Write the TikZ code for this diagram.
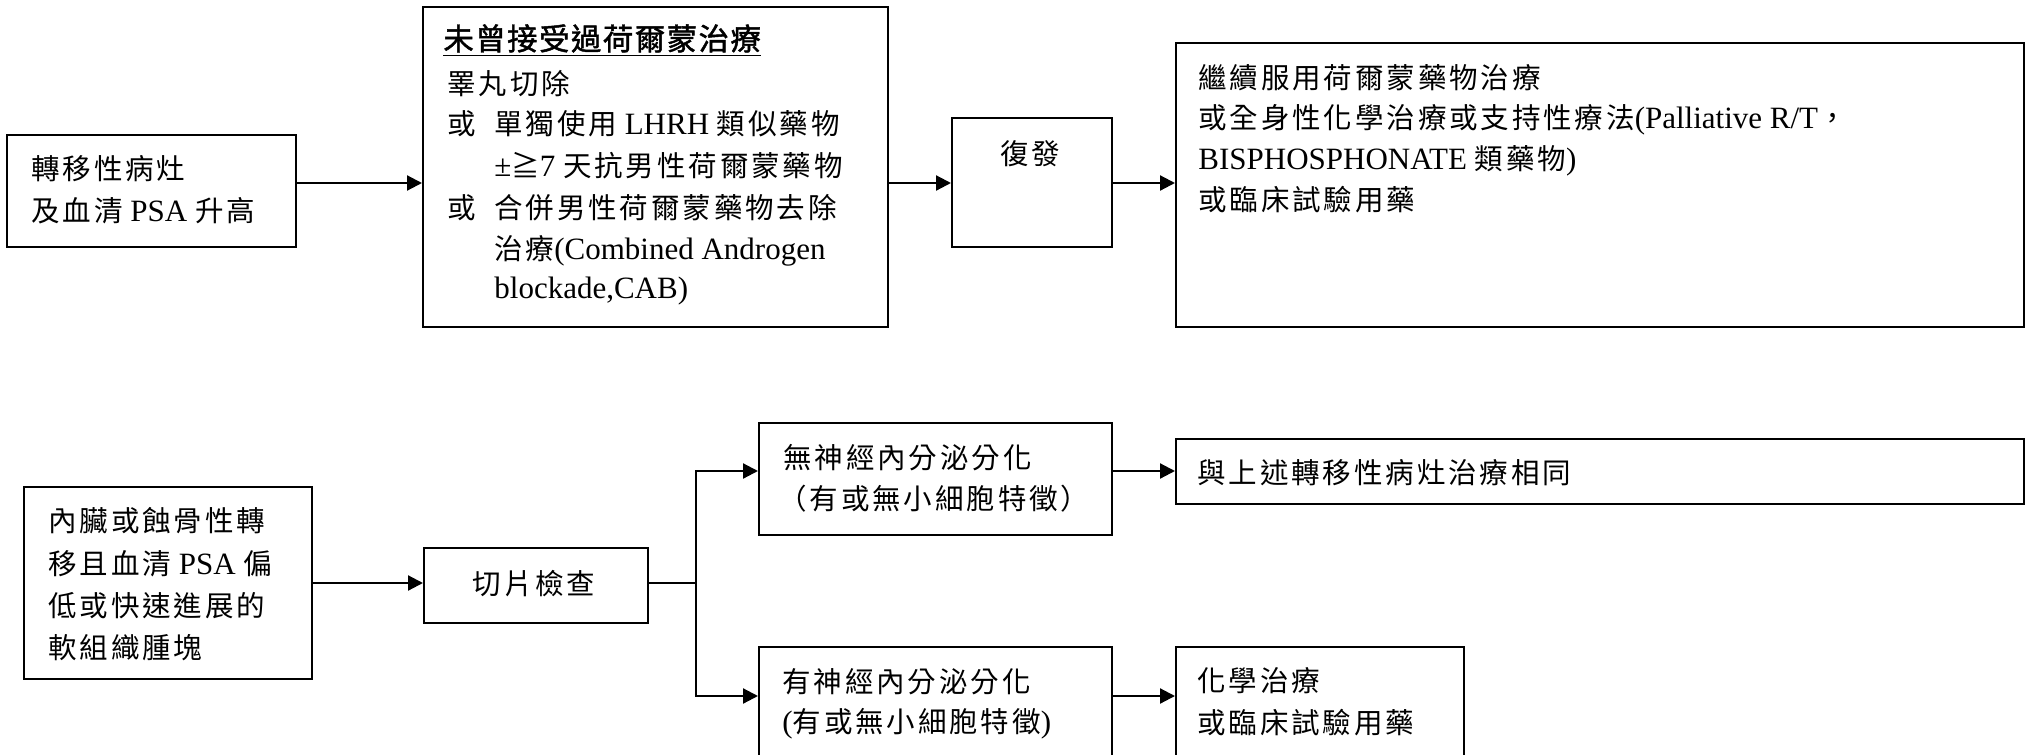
\documentclass[tikz,border=0pt]{standalone}
\usepackage{fontspec}
\setmainfont{Liberation Serif}
\newfontfamily\cjk[Scale=0.92,LetterSpace=10]{Noto Sans CJK TC}
\newfontfamily\cjkb[Scale=0.98,FakeBold=1.5,LetterSpace=5]{Noto Sans CJK TC}
\usetikzlibrary{arrows.meta,fit}
\newcommand\C[1]{{\cjk #1}}
\begin{document}
\begin{tikzpicture}[x=0.5pt,y=-0.5pt,
  box/.style={draw, line width=1pt, inner sep=0pt},
  txt/.style={anchor=base west, inner sep=0pt, font=\fontsize{15.5}{18}\selectfont},
  ctxt/.style={anchor=base, inner sep=0pt, font=\fontsize{15.5}{18}\selectfont},
  arr/.style={line width=1.1pt, -{Triangle[length=7.5pt,width=7.5pt]}},
  ln/.style={line width=1.1pt}]
\useasboundingbox (0,0) rectangle (2031,755);
\clip (0,0) rectangle (2031,755);
% boxes
\node[box, fit={(7,135) (296,247)}] (A) {};
\node[box, fit={(423,7) (888,327)}] (B) {};
\node[box, fit={(952,118) (1112,247)}] (C) {};
\node[box, fit={(1176,43) (2024,327)}] (D) {};
\node[box, fit={(24,487) (312,679)}] (E) {};
\node[box, fit={(424,548) (648,623)}] (F) {};
\node[box, fit={(759,423) (1112,535)}] (G) {};
\node[box, fit={(759,647) (1112,800)}] (H) {};
\node[box, fit={(1176,439) (2024,504)}] (I) {};
\node[box, fit={(1176,647) (1464,800)}] (J) {};
% texts
\node[txt] (a1) at (31,179) {\C{轉移性病灶}};
\node[txt] (a2) at (31,221) {\C{及血清} PSA \C{升高}};
\node[txt] (b0) at (443,50) {\underline{\cjkb 未曾接受過荷爾蒙治療}};
\node[txt] (b1) at (447,94) {\C{睪丸切除}};
\node[txt] (b2o) at (447,134) {\C{或}};
\node[txt] (b2) at (494,134) {\C{單獨使用} LHRH \C{類似藥物}};
\node[txt] (b3) at (494,176) {±\C{≧}7 \C{天抗男性荷爾蒙藥物}};
\node[txt] (b4o) at (447,218) {\C{或}};
\node[txt] (b4) at (494,218) {\C{合併男性荷爾蒙藥物去除}};
\node[txt] (b5) at (494,259) {\C{治療}(Combined Androgen};
\node[txt] (b6) at (494,298) {blockade,CAB)};
\node[ctxt] (c1) at (1030,164) {\C{復發}};
\node[txt] (d1) at (1198,88) {\C{繼續服用荷爾蒙藥物治療}};
\node[txt] (d2) at (1198,128) {\C{或全身性化學治療或支持性療法}(Palliative R/T\C{，}};
\node[txt] (d3) at (1198,169) {BISPHOSPHONATE \C{類藥物})};
\node[txt] (d4) at (1198,210) {\C{或臨床試驗用藥}};
\node[txt] (e1) at (48,531) {\C{內臟或蝕骨性轉}};
\node[txt] (e2) at (48,574) {\C{移且血清} PSA \C{偏}};
\node[txt] (e3) at (48,616) {\C{低或快速進展的}};
\node[txt] (e4) at (48,658) {\C{軟組織腫塊}};
\node[ctxt] (f1) at (534,594) {\C{切片檢查}};
\node[txt] (g1) at (783,468) {\C{無神經內分泌分化}};
\node[txt] (g2) at (778,509) {\C{（有或無小細胞特徵）}};
\node[txt] (h1) at (782,692) {\C{有神經內分泌分化}};
\node[txt] (h2) at (782,732) {(\C{有或無小細胞特徵})};
\node[txt] (i1) at (1197,483) {\C{與上述轉移性病灶治療相同}};
\node[txt] (j1) at (1197,691) {\C{化學治療}};
\node[txt] (j2) at (1197,733) {\C{或臨床試驗用藥}};
% connectors
\coordinate (yA) at (0,183);
\coordinate (yF) at (0,583);
\coordinate (yG) at (0,471);
\coordinate (yH) at (0,696);
\coordinate (jn) at (696,583);
\draw[arr] (A.east |- yA) -- (B.west |- yA);
\draw[arr] (B.east |- yA) -- (C.west |- yA);
\draw[arr] (C.east |- yA) -- (D.west |- yA);
\draw[arr] (E.east |- yF) -- (F.west |- yF);
\draw[ln] (F.east |- yF) -- (jn);
\draw[arr] (jn) |- (G.west |- yG);
\draw[arr] (jn) |- (H.west |- yH);
\draw[arr] (G.east |- yG) -- (I.west |- yG);
\draw[arr] (H.east |- yH) -- (J.west |- yH);
\end{tikzpicture}
\end{document}
